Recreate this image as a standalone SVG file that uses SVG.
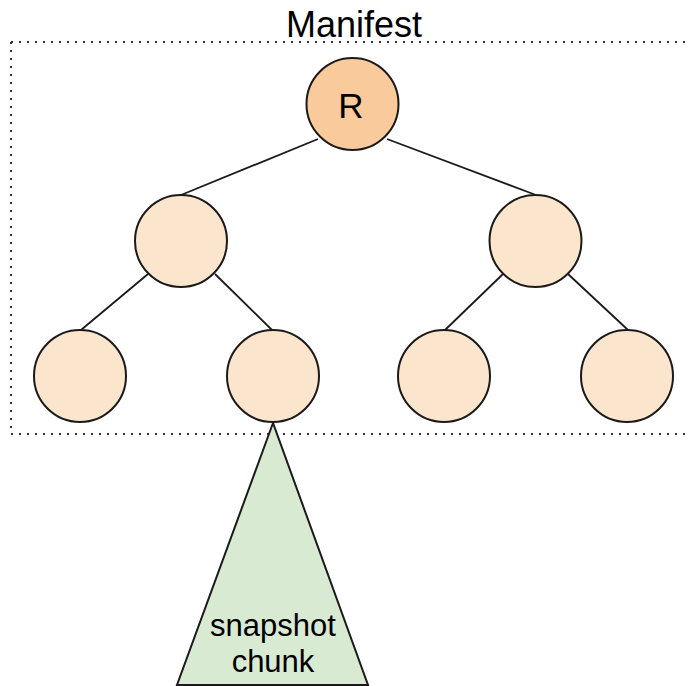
<svg xmlns="http://www.w3.org/2000/svg" width="690" height="686" viewBox="0 0 690 686">
<style>
.node{stroke:#1a1a1a;stroke-width:2}
.leaf{fill:#fce5cd}
.root{fill:#f9cb9c}
.edge{stroke:#1a1a1a;stroke-width:1.8;fill:none}
.lbl{font-family:"Liberation Sans",Arial,sans-serif;fill:#000;text-anchor:middle}
</style>
<rect width="690" height="686" fill="#fff"/>
<g id="manifest-box">
<path d="M11 42 H690 M11 42 V434 H690" fill="none" stroke="#333" stroke-width="2" stroke-dasharray="2 6"/>
<text class="lbl" x="354" y="37" font-size="36">Manifest</text>
</g>
<g id="connectors">
<line class="edge" x1="318" y1="139" x2="181" y2="195"/>
<line class="edge" x1="387" y1="139" x2="536" y2="195"/>
<line class="edge" x1="148" y1="274" x2="81" y2="330"/>
<line class="edge" x1="215" y1="274" x2="272" y2="330"/>
<line class="edge" x1="503" y1="274" x2="445" y2="330"/>
<line class="edge" x1="568" y1="274" x2="628" y2="330"/>
</g>
<g id="chunk">
<polygon points="273,423 177,685 368,685" fill="#d9ead3" stroke="#1a1a1a" stroke-width="2"/>
<text class="lbl" x="273" y="636" font-size="31">snapshot</text>
<text class="lbl" x="273" y="672" font-size="31">chunk</text>
</g>
<g id="root"><circle class="node root" cx="352.5" cy="104" r="46"/><text class="lbl" x="351" y="118" font-size="35">R</text></g>
<g id="mid-left"><circle class="node leaf" cx="181" cy="241" r="46"/></g>
<g id="mid-right"><circle class="node leaf" cx="535.5" cy="241" r="46"/></g>
<g id="leaf-1"><circle class="node leaf" cx="80" cy="376" r="46"/></g>
<g id="leaf-2"><circle class="node leaf" cx="273" cy="376" r="46"/></g>
<g id="leaf-3"><circle class="node leaf" cx="444" cy="376" r="46"/></g>
<g id="leaf-4"><circle class="node leaf" cx="627" cy="376" r="46"/></g>
</svg>
